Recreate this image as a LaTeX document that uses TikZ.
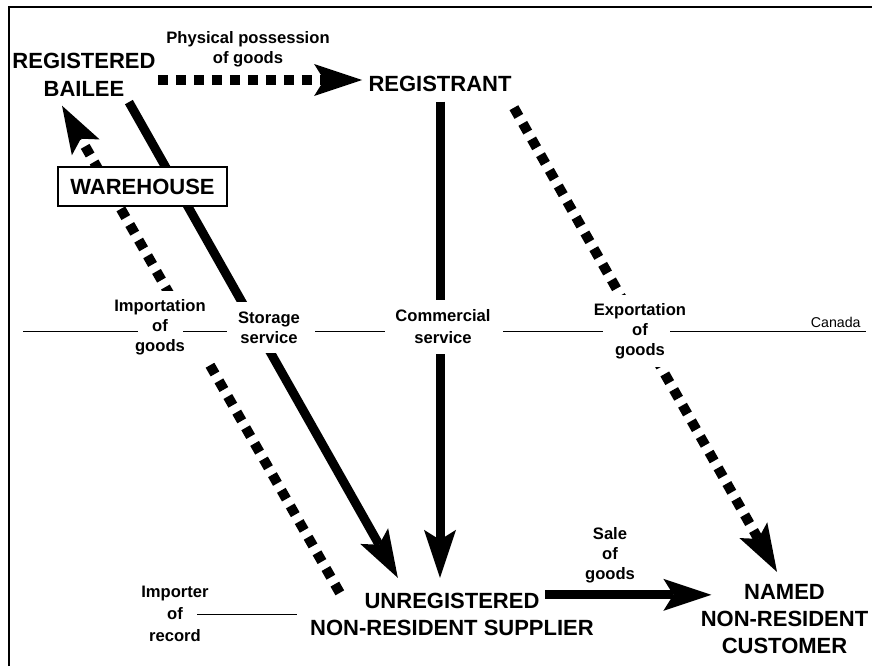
\documentclass[tikz,border=0pt]{standalone}
\usepackage{fontspec}
\setmainfont{Liberation Sans}
\usetikzlibrary{arrows.meta}

\begin{document}
\begin{tikzpicture}[
  x=0.5pt, y=-0.5pt,
  >={Stealth[length=24pt, width=16pt, inset=5pt, line width=0pt]},
  party/.style={align=center, inner sep=1pt, font=\fontsize{11}{14}\selectfont\bfseries},
  cut/.style={align=center, fill=white, inner sep=5pt, font=\fontsize{8.3}{10}\selectfont\bfseries},
  tag/.style={align=center, inner sep=1pt, font=\fontsize{8.3}{10}\selectfont\bfseries},
  flow/.style={->, line width=4.5pt},
  goods/.style={->, line width=5pt, dash pattern=on 5pt off 4pt},
  border/.style={line width=0.5pt},
]
  \useasboundingbox (0,0) rectangle (872,666);
  \draw[line width=1.3pt] (9,666) -- (9,7) -- (872,7);

  \node[party] (bailee) at (84,75)      {REGISTERED\\BAILEE};
  \node[party] (reg)    at (440,83.5)   {REGISTRANT};
  \node[party, font=\fontsize{11}{13.5}\selectfont\bfseries]
               (unreg)  at (452,614.5)  {UNREGISTERED\\NON-RESIDENT SUPPLIER};
  \node[party, font=\fontsize{11}{13.5}\selectfont\bfseries]
               (named)  at (784.5,619)  {NAMED\\NON-RESIDENT\\CUSTOMER};

  % goods move along the dotted arrows, services along the solid ones
  \draw[goods, shorten >=2pt] ([yshift=-2.5pt]bailee.east) -- ([yshift=-2.5pt]bailee.east -| reg.west);
  \draw[goods] ([yshift=-7pt]reg.south east) -- ([xshift=-3.75pt, yshift=5pt]named.north);
  \draw[goods] ([xshift=16pt, yshift=-1pt]unreg.north west) -- ([xshift=-11pt, yshift=-3.3pt]bailee.south);
  \draw[flow] ([xshift=-14.5pt, yshift=-1.5pt]bailee.south east) -- ([xshift=45pt, yshift=6.5pt]unreg.north west);
  \draw[flow, shorten <=4pt, shorten >=6.5pt] (reg.south) -- (reg.south |- unreg.north);
  \draw[flow] ([xshift=-25.5pt, yshift=-2pt]unreg.north east) coordinate (s0) -- ([xshift=6.5pt]s0 -| named.west);

  \node[party, draw, line width=1pt, fill=white, minimum width=84.5pt, minimum height=19.5pt]
    (wh) at (142.5,186.5) {WAREHOUSE};

  \node[tag] (poss) at (248,49)  {Physical possession\\of goods};
  \node[tag] (sale) at (610,555) {Sale\\of\\goods};
  \node[tag, font=\fontsize{8.3}{11}\selectfont\bfseries] (recd) at (175,614) {Importer\\of\\record};
  \node[cut, inner sep=4pt] (imp)  at (160,327)   {Importation\\of\\goods};
  \node[cut] (stor) at (269,327.5) {Storage\\service};
  \node[cut, font=\fontsize{8.3}{11}\selectfont\bfseries] (comm) at (443,327) {Commercial\\service};
  \node[cut, inner sep=4pt] (exp)  at (640,331)   {Exportation\\of\\goods};

  % border line
  \foreach \a/\b in {23/138, 183/227, 315/385, 503/603, 670/866}
    \draw[border] (\a,331) -- (\b,331);
  \node[anchor=base east, inner sep=0pt, font=\fontsize{7.1}{8}\selectfont] (canada) at (861,327) {Canada};

  \draw[border] ([xshift=11pt]recd.center) -- ([xshift=-5.5pt]recd.center -| unreg.west);
\end{tikzpicture}
\end{document}
